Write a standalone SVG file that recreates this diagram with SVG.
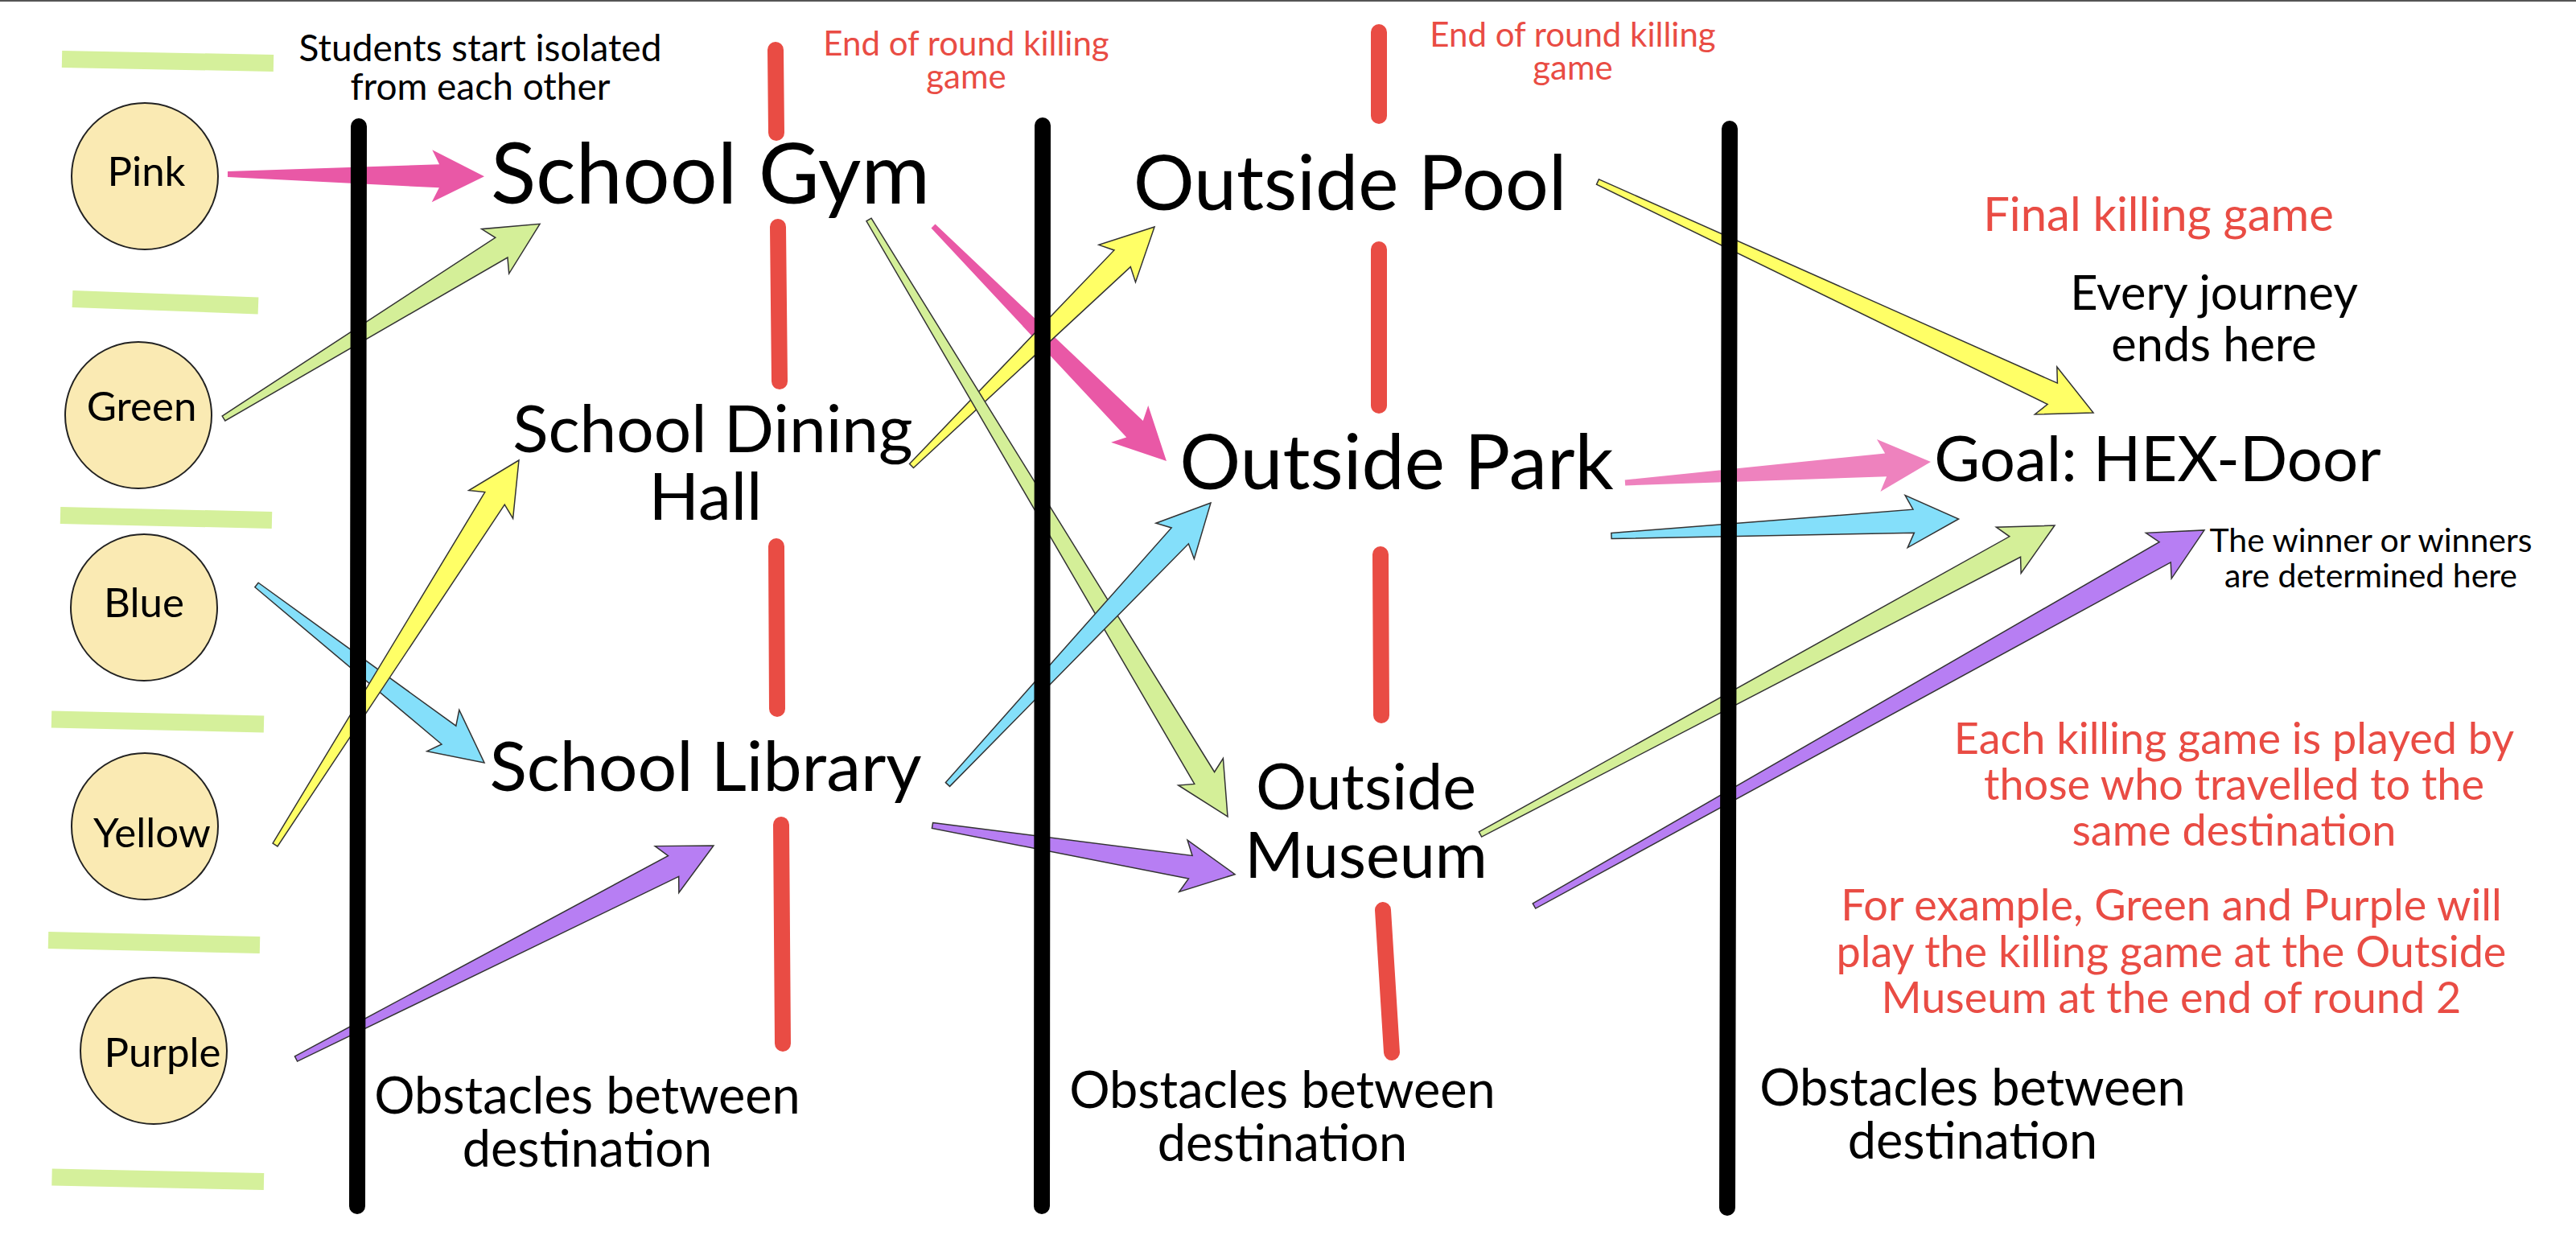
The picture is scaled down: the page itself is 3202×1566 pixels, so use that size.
<svg xmlns="http://www.w3.org/2000/svg" width="3202" height="1566" viewBox="0 0 3202 1566">
<style>
text{font-family:Lato,"Source Sans Pro","Noto Sans",sans-serif;text-anchor:middle;fill:#000}
.red{fill:#e94c44}
.bar{stroke:#d5f09b;stroke-width:21;stroke-linecap:butt;fill:none}
.div{stroke:#000;stroke-width:20;stroke-linecap:round;fill:none}
.dash{stroke:#e94c44;stroke-width:20;stroke-linecap:round;fill:none}
.stu{fill:#faeab3;stroke:#222;stroke-width:2}
.arr{stroke:#333;stroke-width:1.5;stroke-linejoin:miter}
.pk{fill:#e958a6;stroke:none}
.pk2{fill:#ee82be;stroke:none}
.gr{fill:#d4ef98}
.ye{fill:#ffff66}
.bl{fill:#84dffa}
.pu{fill:#b77ef3}
.n1{font-size:51px}
.big{font-size:104px}
.obs{font-size:63px}
.eor{font-size:42px}
.note{font-size:54px}
</style>
<rect x="0" y="0" width="3202" height="2" fill="#555"/>
<g id="bars">
<line class="bar" x1="77" y1="73.5" x2="340" y2="78.5"/>
<line class="bar" x1="90" y1="371.5" x2="321" y2="380"/>
<line class="bar" x1="75" y1="640.5" x2="338" y2="646.5"/>
<line class="bar" x1="64" y1="894" x2="328" y2="900"/>
<line class="bar" x1="60" y1="1168.5" x2="323" y2="1174.5"/>
<line class="bar" x1="64.5" y1="1463" x2="328" y2="1468.5"/>
</g>
<g id="connectors">
<polygon class="arr pk" transform="translate(283,216.5) rotate(0.5)" points="0,-3.5 263,-14.5 254,-32.5 319,0 254,32.5 263,14.5 0,3.5"/>
<polygon class="arr bl" transform="translate(319,727) rotate(37.99)" points="0,-3.5 303.1,-14.5 294.1,-32.5 359.1,0 294.1,32.5 303.1,14.5 0,3.5"/>
<polygon class="arr ye" transform="translate(342,1050) rotate(-57.63)" points="0,-3.5 509.9,-14.5 500.9,-32.5 565.9,0 500.9,32.5 509.9,14.5 0,3.5"/>
<polygon class="arr gr" transform="translate(278,520) rotate(-31.59)" points="0,-3.5 405.4,-14.5 396.4,-32.5 461.4,0 396.4,32.5 405.4,14.5 0,3.5"/>
<polygon class="arr pu" transform="translate(368,1316) rotate(-27.05)" points="0,-3.5 526.7,-14.5 517.7,-32.5 582.7,0 517.7,32.5 526.7,14.5 0,3.5"/>
<polygon class="arr pk" transform="translate(1160,281) rotate(45.2)" points="0,-3.5 355.5,-14.5 346.5,-32.5 411.5,0 346.5,32.5 355.5,14.5 0,3.5"/>
<polygon class="arr ye" transform="translate(1133,579) rotate(-44.52)" points="0,-3.5 367.6,-14.5 358.6,-32.5 423.6,0 358.6,32.5 367.6,14.5 0,3.5"/>
<polygon class="arr gr" transform="translate(1080,273) rotate(58.99)" points="0,-3.5 809.7,-14.5 800.7,-32.5 865.7,0 800.7,32.5 809.7,14.5 0,3.5"/>
<polygon class="arr bl" transform="translate(1178,975) rotate(-46.95)" points="0,-3.5 423,-14.5 414,-32.5 479,0 414,32.5 423,14.5 0,3.5"/>
<polygon class="arr pu" transform="translate(1159,1026) rotate(9.16)" points="0,-3.5 324.9,-14.5 315.9,-32.5 380.9,0 315.9,32.5 324.9,14.5 0,3.5"/>
<polygon class="arr ye" transform="translate(1986,226) rotate(24.98)" points="0,-3.5 623.6,-14.5 614.6,-32.5 679.6,0 614.6,32.5 623.6,14.5 0,3.5"/>
<polygon class="arr pk2" transform="translate(2020,600) rotate(-3.91)" points="0,-3.5 324.9,-14.5 315.9,-32.5 380.9,0 315.9,32.5 324.9,14.5 0,3.5"/>
<polygon class="arr bl" transform="translate(2003,666) rotate(-2.79)" points="0,-3.5 376.1,-14.5 367.1,-32.5 432.1,0 367.1,32.5 376.1,14.5 0,3.5"/>
<polygon class="arr gr" transform="translate(1840,1037) rotate(-28.27)" points="0,-3.5 754.7,-14.5 745.7,-32.5 810.7,0 745.7,32.5 754.7,14.5 0,3.5"/>
<polygon class="arr pu" transform="translate(1907,1126) rotate(-29.28)" points="0,-3.5 899,-14.5 890,-32.5 955,0 890,32.5 899,14.5 0,3.5"/>
</g>
<g id="dividers">
<line class="div" x1="446" y1="157" x2="444" y2="1499"/>
<line class="div" x1="1296" y1="156" x2="1295" y2="1499"/>
<line class="div" x1="2150" y1="160" x2="2147" y2="1501"/>
</g>
<g id="round-ends">
<line class="dash" x1="964" y1="62" x2="965" y2="165"/>
<line class="dash" x1="967" y1="282" x2="969" y2="474"/>
<line class="dash" x1="965" y1="679" x2="966" y2="881"/>
<line class="dash" x1="971" y1="1025" x2="973" y2="1297"/>
<line class="dash" x1="1714" y1="40" x2="1714" y2="144"/>
<line class="dash" x1="1714" y1="310" x2="1714" y2="504"/>
<line class="dash" x1="1716" y1="689" x2="1717" y2="889"/>
<line class="dash" x1="1719" y1="1131" x2="1730" y2="1308"/>
</g>
<g id="pink"><ellipse class="stu" cx="180" cy="219" rx="91" ry="91"/><text class="n1" x="182" y="231">Pink</text></g>
<g id="green"><ellipse class="stu" cx="172" cy="516" rx="91" ry="91"/><text class="n1" x="176" y="523">Green</text></g>
<g id="blue"><ellipse class="stu" cx="179" cy="755" rx="91" ry="91"/><text class="n1" x="179" y="767">Blue</text></g>
<g id="yellow"><ellipse class="stu" cx="180" cy="1027" rx="91" ry="91"/><text class="n1" x="189" y="1053">Yellow</text></g>
<g id="purple"><ellipse class="stu" cx="191" cy="1306" rx="91" ry="91"/><text class="n1" x="202" y="1326">Purple</text></g>
<g id="school-gym"><text class="big" x="883" y="253">School Gym</text></g>
<g id="school-dining-hall"><text font-size="82" x="886" y="562">School Dining<tspan x="877" y="646">Hall</tspan></text></g>
<g id="school-library"><text x="877" y="983" font-size="86">School Library</text></g>
<g id="outside-pool"><text x="1678" y="261" font-size="95">Outside Pool</text></g>
<g id="outside-park"><text x="1736" y="608" font-size="95">Outside Park</text></g>
<g id="outside-museum"><text font-size="79" x="1698" y="1006">Outside<tspan x="1698" y="1091">Museum</tspan></text></g>
<g id="goal"><text x="2682" y="598" font-size="78">Goal: HEX-Door</text></g>
<g id="notes">
<text font-size="46" x="597" y="76">Students start isolated<tspan x="597" y="124">from each other</tspan></text>
<text class="red eor" x="1201" y="69">End of round killing<tspan x="1201" y="110">game</tspan></text>
<text class="red eor" x="1955" y="58">End of round killing<tspan x="1955" y="99">game</tspan></text>
<text class="red" x="2683" y="287" font-size="58">Final killing game</text>
<text font-size="59.5" x="2752" y="385">Every journey<tspan x="2752" y="449">ends here</tspan></text>
<text font-size="41" x="2947" y="686">The winner or winners<tspan x="2947" y="730">are determined here</tspan></text>
<text class="red note" x="2777" y="937">Each killing game is played by<tspan x="2777" y="994">those who travelled to the</tspan><tspan x="2777" y="1051">same destination</tspan></text>
<text class="red note" x="2699" y="1144">For example, Green and Purple will<tspan x="2699" y="1202">play the killing game at the Outside</tspan><tspan x="2699" y="1259">Museum at the end of round 2</tspan></text>
<text class="obs" x="730" y="1384">Obstacles between<tspan x="730" y="1450">destination</tspan></text>
<text class="obs" x="1594" y="1377">Obstacles between<tspan x="1594" y="1443">destination</tspan></text>
<text class="obs" x="2452" y="1374">Obstacles between<tspan x="2452" y="1440">destination</tspan></text>
</g>
</svg>
